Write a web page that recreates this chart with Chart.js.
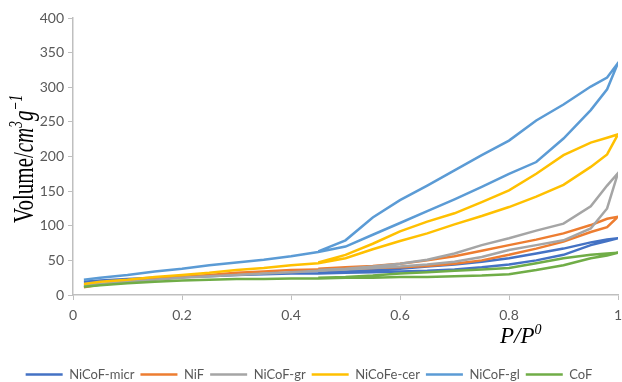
<!DOCTYPE html>
<html>
<head>
<meta charset="utf-8">
<script src="https://cdn.jsdelivr.net/npm/chart.js@4.4.0/dist/chart.umd.min.js"></script>
<style>
  html, body { margin: 0; padding: 0; background: #fff; }
  #wrap { width: 622px; height: 382px; }
</style>
</head>
<body>
<div id="wrap"><canvas id="iso" width="622" height="382"></canvas></div>
<script>
// relative pressure, adsorption (up) then desorption (down)
const pAds = [0.02, 0.05, 0.1, 0.15, 0.2, 0.25, 0.3, 0.35, 0.4, 0.45, 0.5, 0.55, 0.6, 0.65, 0.7, 0.75, 0.8, 0.85, 0.9, 0.95, 0.98, 1];
const pDes = [0.98, 0.95, 0.9, 0.85, 0.8, 0.75, 0.7, 0.65, 0.6, 0.55, 0.5, 0.45];

const names = ['NiCoF-micr', 'NiF', 'NiCoF-gr', 'NiCoFe-cer', 'NiCoF-gl', 'CoF'];
const colors = ['#4472C4', '#ED7D31', '#A5A5A5', '#FFC000', '#5B9BD5', '#70AD47'];

// volume adsorbed, cm3/g
const micrAds = [19, 21, 23, 25, 26, 27, 29, 30, 31, 31, 32, 33, 34, 35, 37, 40, 44, 50, 58, 72, 78, 82];
const micrDes = [80, 76, 67, 60, 53, 48, 44, 41, 38, 36, 34, 32];
const nifAds = [11, 15, 19, 23, 26, 29, 32, 34, 36, 37, 38, 39, 40, 42, 45, 50, 58, 67, 77, 91, 98, 113];
const nifDes = [110, 101, 89, 80, 72, 64, 56, 50, 45, 42, 40, 38];
const grAds = [14, 16, 19, 22, 25, 27, 29, 31, 33, 35, 37, 39, 41, 44, 48, 55, 65, 72, 79, 96, 125, 176];
const grDes = [158, 128, 103, 93, 82, 72, 60, 51, 45, 41, 38, 36];
const cerAds = [16, 19, 22, 26, 29, 32, 36, 39, 43, 46, 53, 66, 78, 89, 102, 114, 127, 142, 159, 185, 203, 232];
const cerDes = [227, 220, 202, 175, 151, 134, 118, 106, 92, 74, 58, 47];
const glAds = [22, 25, 29, 34, 38, 43, 47, 51, 56, 62, 70, 87, 104, 121, 138, 156, 175, 192, 226, 267, 297, 335];
const glDes = [314, 301, 275, 252, 223, 202, 180, 158, 137, 112, 79, 63];
const cofAds = [12, 14, 17, 19, 21, 22, 23, 23, 24, 24, 25, 25, 26, 26, 27, 28, 30, 36, 43, 53, 57, 61];
const cofDes = [60, 58, 53, 46, 39, 37, 35, 33, 31, 28, 26, 25];

const yTicks = [0, 50, 100, 150, 200, 250, 300, 350, 400];
const xTicks = [0, 0.2, 0.4, 0.6, 0.8, 1];

const seriesAds = [micrAds, nifAds, grAds, cerAds, glAds, cofAds];
const seriesDes = [micrDes, nifDes, grDes, cerDes, glDes, cofDes];

function loop(ads, des) {
    const pts = pAds.map((p, i) => ({ x: p, y: ads[i] }));
    return pts.concat(pDes.map((p, i) => ({ x: p, y: des[i] })));
}

const datasets = names.map((name, i) => ({
    label: name,
    data: loop(seriesAds[i], seriesDes[i]),
    borderColor: colors[i],
    backgroundColor: colors[i],
    borderWidth: 2.5,
    pointRadius: 0,
    showLine: true,
    tension: 0,
    order: names.length - i   // later series painted on top, like the source
}));

// axis titles with italics and superscripts
const yTitle = [
    { t: 'Volume/', it: false, sup: false },
    { t: 'cm', it: true, sup: false },
    { t: '3', it: true, sup: true },
    { t: 'g', it: true, sup: false },
    { t: '\u22121', it: true, sup: true }
];
const xTitle = [
    { t: 'P/P', it: true, sup: false },
    { t: '0', it: true, sup: true }
];

function drawParts(ctx, parts, size) {
    let x = 0;
    parts.forEach(p => {
        const s = p.sup ? Math.round(size * 0.62) : size;
        ctx.font = (p.it ? 'italic ' : '') + s + 'px "Liberation Serif", "DejaVu Serif", serif';
        ctx.fillText(p.t, x, p.sup ? -size * 0.38 : 0);
        x += ctx.measureText(p.t).width;
    });
}

const axisTitles = {
    id: 'axisTitles',
    afterDraw(chart) {
        const ctx = chart.ctx;
        const area = chart.chartArea;
        ctx.save();
        ctx.fillStyle = '#000';
        ctx.textBaseline = 'alphabetic';
        ctx.textAlign = 'left';
        ctx.translate(33, 223);
        ctx.rotate(-Math.PI / 2);
        ctx.scale(0.7, 1);
        drawParts(ctx, yTitle, 30);
        ctx.restore();

        ctx.save();
        ctx.fillStyle = '#000';
        ctx.textBaseline = 'alphabetic';
        ctx.textAlign = 'left';
        ctx.translate(500, area.bottom + 48);
        drawParts(ctx, xTitle, 23);
        ctx.restore();
    }
};

const axisGrey = '#BFBFBF';
const tickFont = { family: 'Lato, "Open Sans", sans-serif', size: 14 };

new Chart(document.getElementById('iso'), {
    type: 'scatter',
    data: { datasets },
    options: {
        responsive: false,
        animation: false,
        layout: { padding: { top: 18, right: 4, bottom: -9, left: 0 } },
        scales: {
            x: {
                type: 'linear',
                min: 0,
                max: 1,
                afterBuildTicks: s => { s.ticks = xTicks.map(v => ({ value: v })); },
                afterFit: s => { s.height = 67; s.paddingRight = 0; s.paddingLeft = 0; },
                ticks: {
                    color: '#595959',
                    font: tickFont,
                    padding: 7,
                    callback: v => Number(v.toFixed(1)).toString()
                },
                grid: { drawOnChartArea: false, drawTicks: true, tickLength: 5, color: axisGrey },
                border: { color: axisGrey, width: 1.5 }
            },
            y: {
                min: 0,
                max: 400,
                afterBuildTicks: s => { s.ticks = yTicks.map(v => ({ value: v })); },
                afterFit: s => { s.width = 73; },
                ticks: { color: '#595959', font: tickFont, padding: 4 },
                grid: { drawOnChartArea: false, drawTicks: true, tickLength: 5, color: axisGrey },
                border: { color: axisGrey, width: 1.5 }
            }
        },
        plugins: {
            tooltip: { enabled: false },
            legend: {
                position: 'bottom',
                labels: {
                    color: '#595959',
                    font: { family: 'Lato, "Open Sans", sans-serif', size: 13 },
                    usePointStyle: true,
                    pointStyle: 'line',
                    pointStyleWidth: 37,
                    padding: 6,
                    sort: (a, b) => a.datasetIndex - b.datasetIndex
                }
            }
        }
    },
    plugins: [axisTitles]
});
</script>
</body>
</html>
